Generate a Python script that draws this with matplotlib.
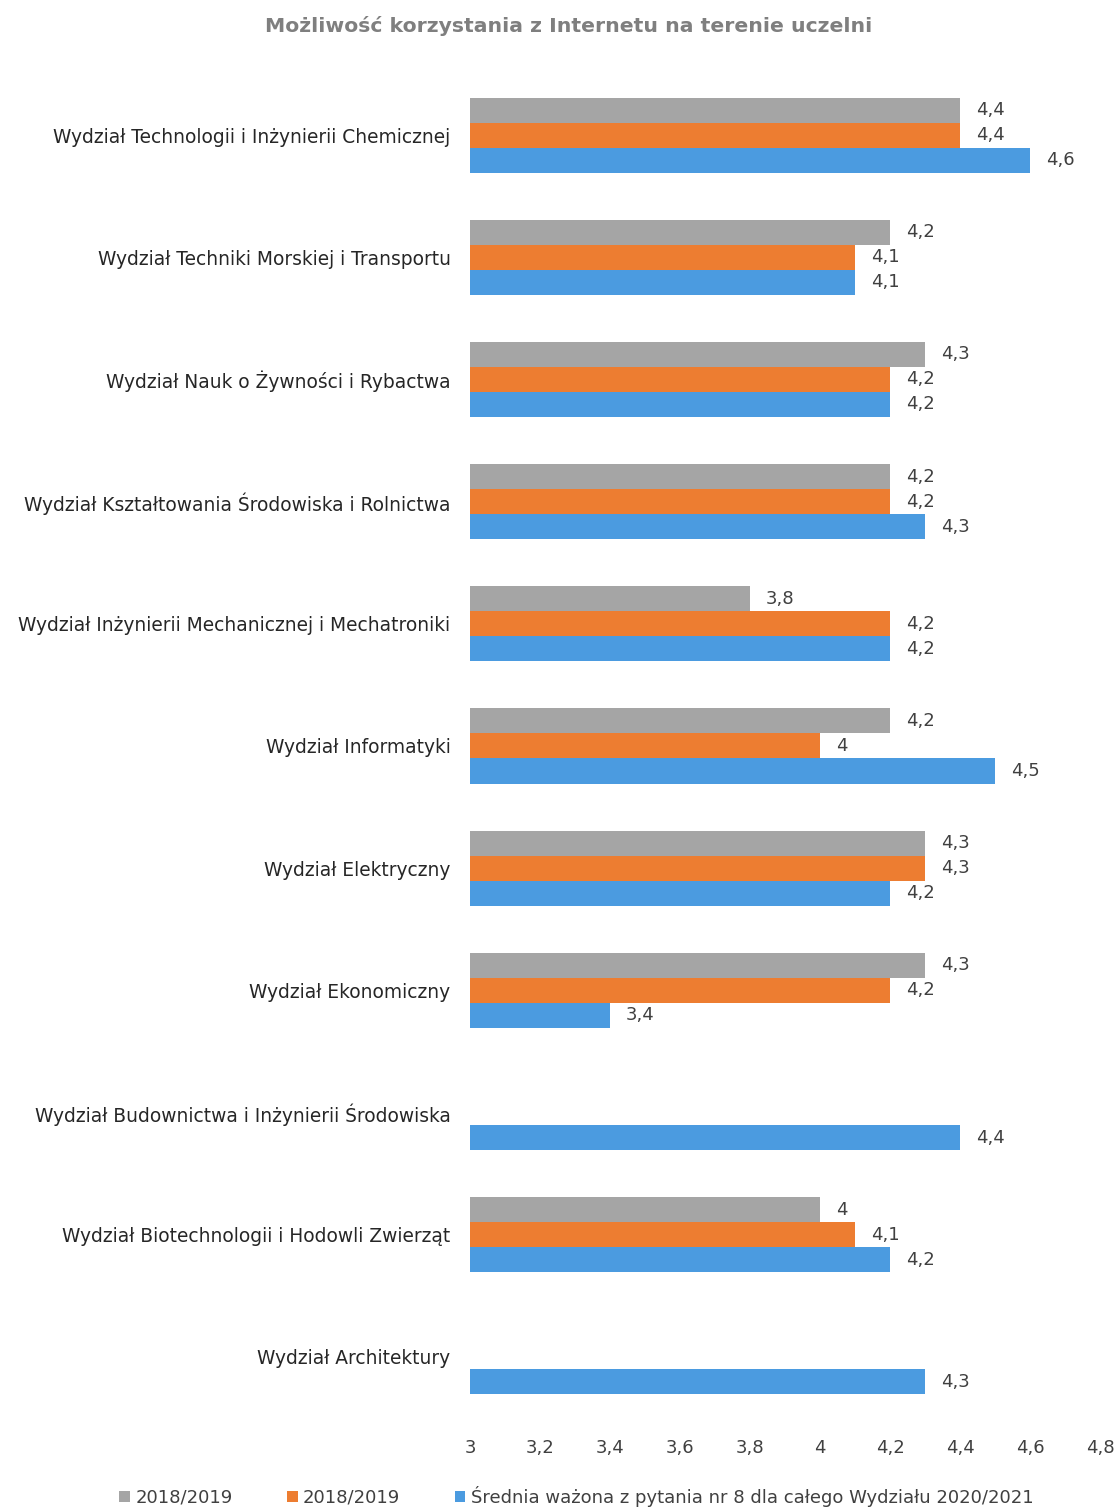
import numpy as np
import matplotlib
matplotlib.use("Agg")
import matplotlib.pyplot as plt
from matplotlib.patches import Patch

categories = [
    "Wydział Technologii i Inżynierii Chemicznej",
    "Wydział Techniki Morskiej i Transportu",
    "Wydział Nauk o Żywności i Rybactwa",
    "Wydział Kształtowania Środowiska i Rolnictwa",
    "Wydział Inżynierii Mechanicznej i Mechatroniki",
    "Wydział Informatyki",
    "Wydział Elektryczny",
    "Wydział Ekonomiczny",
    "Wydział Budownictwa i Inżynierii Środowiska",
    "Wydział Biotechnologii i Hodowli Zwierząt",
    "Wydział Architektury",
]
gray_2018 = [4.4, 4.2, 4.3, 4.2, 3.8, 4.2, 4.3, 4.3, np.nan, 4.0, np.nan]
orange_2018 = [4.4, 4.1, 4.2, 4.2, 4.2, 4.0, 4.3, 4.2, np.nan, 4.1, np.nan]
blue_2020 = [4.6, 4.1, 4.2, 4.3, 4.2, 4.5, 4.2, 3.4, 4.4, 4.2, 4.3]
series_labels = ["2018/2019", "2018/2019",
                 "Średnia ważona z pytania nr 8 dla całego Wydziału 2020/2021"]
xticks = [3, 3.2, 3.4, 3.6, 3.8, 4, 4.2, 4.4, 4.6, 4.8]

colors = ["#A5A5A5", "#ED7D31", "#4B9BE0"]
series = [gray_2018, orange_2018, blue_2020]

plt.rcParams['font.family'] = ['DejaVu Sans']
fig = plt.figure(figsize=(11.19, 15.10), dpi=100)
ax = fig.add_axes([0.42, 0.061, 0.563, 0.890])

n = len(categories)
y = np.arange(n)
h = 0.205
offsets = [-h, 0, h]

def fmt(v):
    s = f"{v:.1f}"
    if s.endswith(".0"):
        s = s[:-2]
    return s.replace(".", ",")

for vals, col, off in zip(series, colors, offsets):
    vals = np.array(vals, dtype=float)
    m = np.isfinite(vals)
    ax.barh(y[m] + off, vals[m] - 3, left=3, height=h, color=col)
    for yy, v in zip(y[m] + off, vals[m]):
        ax.text(v + 0.045, yy, fmt(v), va="center", ha="left",
                fontsize=13, color="#404040")

ax.set_xlim(3, 4.8)
ax.set_ylim(n - 0.5, -0.5)
ax.set_yticks(y)
ax.set_yticklabels(categories, fontsize=13.4, color="#262626")
ax.set_xticks(xticks)
ax.set_xticklabels([fmt(t) for t in xticks], fontsize=13, color="#404040")
ax.tick_params(axis="both", length=0)
ax.tick_params(axis="y", pad=14)
ax.tick_params(axis="x", pad=15)
for s in ax.spines.values():
    s.set_visible(False)

fig.text(0.508, 0.983, "Możliwość korzystania z Internetu na terenie uczelni",
         ha="center", va="center", fontsize=14.7, fontweight="bold", color="#7F7F7F")

handles = [Patch(facecolor=c) for c in colors]
fig.legend(handles, series_labels, loc="center", bbox_to_anchor=(0.515, 0.009),
           ncol=3, frameon=False, fontsize=13, handlelength=0.6, handleheight=0.6,
           columnspacing=3.0, handletextpad=0.3, labelcolor="#404040")

fig.savefig("out.png", dpi=100)
